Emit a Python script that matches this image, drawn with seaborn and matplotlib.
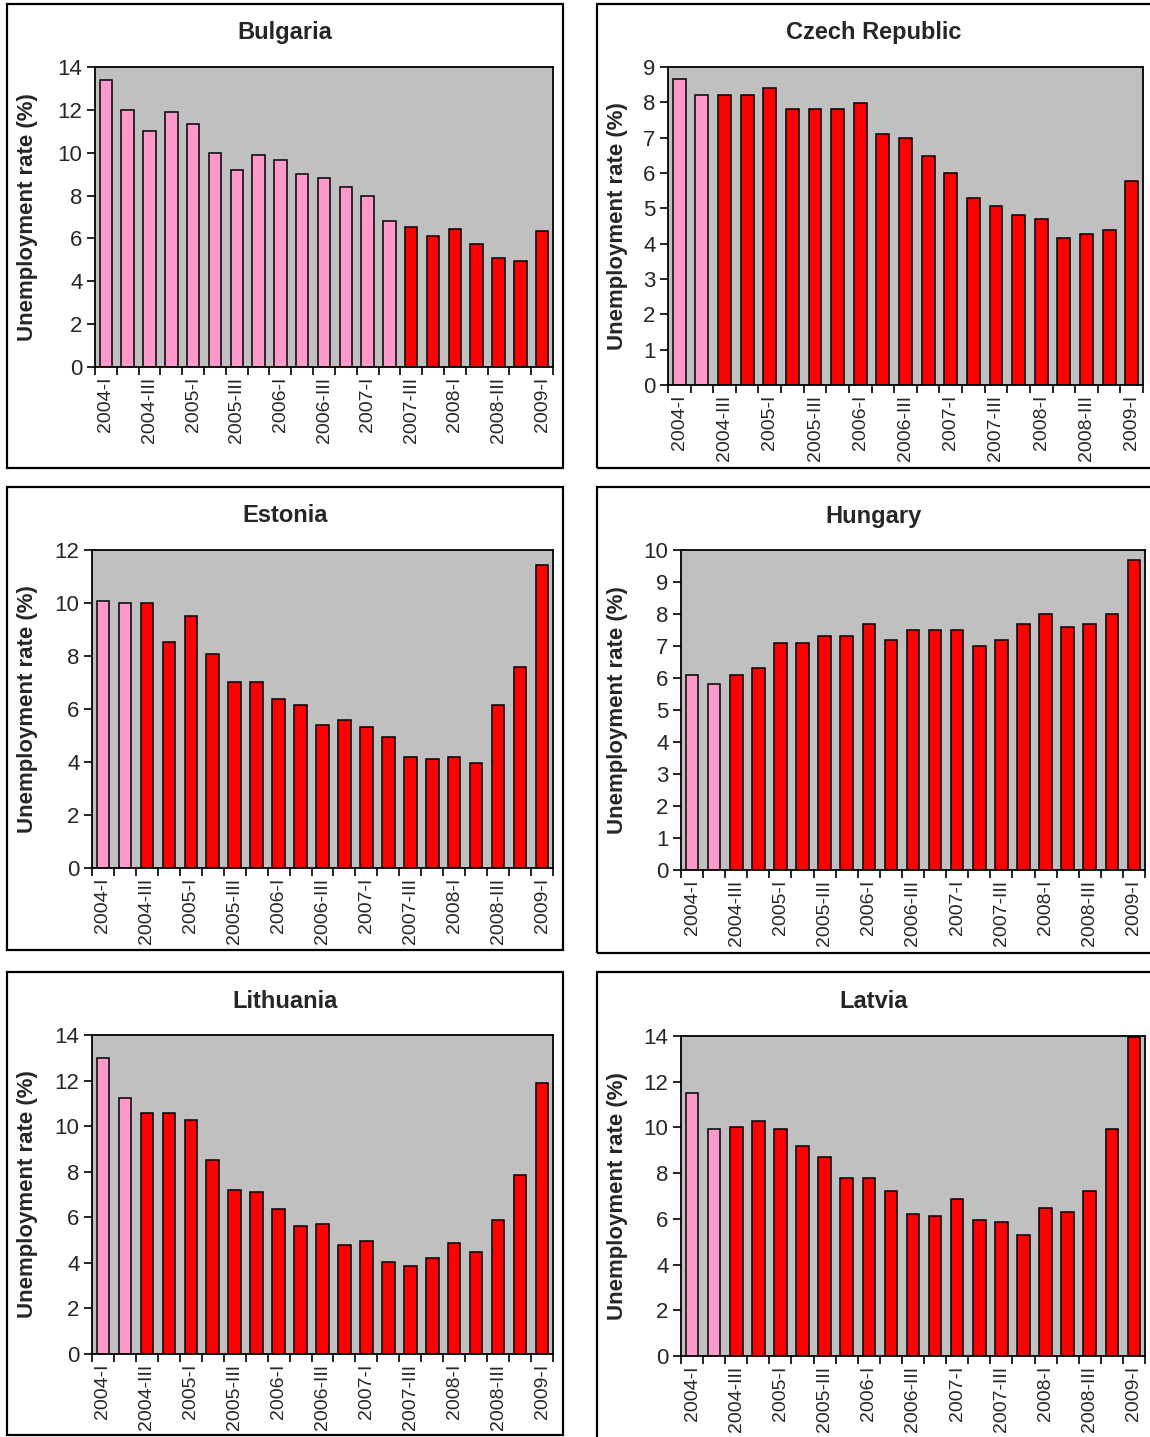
import numpy as np
import pandas as pd
import matplotlib
matplotlib.use("Agg")
import matplotlib.pyplot as plt
from matplotlib.patches import Rectangle
import seaborn as sns

# ---------------- data ----------------
quarters = ["2004-I", "2004-II", "2004-III", "2004-IV",
            "2005-I", "2005-II", "2005-III", "2005-IV",
            "2006-I", "2006-II", "2006-III", "2006-IV",
            "2007-I", "2007-II", "2007-III", "2007-IV",
            "2008-I", "2008-II", "2008-III", "2008-IV",
            "2009-I"]

bulgaria = [13.4, 12.0, 11.0, 11.9, 11.35, 10.0, 9.2, 9.9, 9.65, 9.0, 8.8,
            8.4, 8.0, 6.8, 6.55, 6.1, 6.45, 5.75, 5.1, 4.95, 6.35]
czech = [8.67, 8.2, 8.2, 8.2, 8.4, 7.82, 7.82, 7.82, 7.98, 7.1, 7.0,
         6.48, 5.99, 5.3, 5.08, 4.82, 4.7, 4.16, 4.28, 4.38, 5.78]
estonia = [10.07, 10.0, 10.0, 8.52, 9.5, 8.08, 7.02, 7.02, 6.38, 6.16, 5.4,
           5.6, 5.31, 4.96, 4.18, 4.11, 4.18, 3.97, 6.16, 7.59, 11.43]
hungary = [6.1, 5.8, 6.1, 6.3, 7.1, 7.1, 7.3, 7.3, 7.7, 7.2, 7.5,
           7.5, 7.5, 7.0, 7.2, 7.7, 8.0, 7.6, 7.7, 8.0, 9.7]
lithuania = [12.97, 11.24, 10.58, 10.58, 10.25, 8.51, 7.18, 7.1, 6.36, 5.61, 5.7,
             4.78, 4.96, 4.04, 3.87, 4.2, 4.87, 4.46, 5.86, 7.85, 11.9]
latvia = [11.52, 9.94, 10.01, 10.27, 9.94, 9.2, 8.7, 7.8, 7.8, 7.2, 6.22,
          6.14, 6.87, 5.96, 5.87, 5.29, 6.46, 6.3, 7.22, 9.94, 13.94]

countries = ["Bulgaria", "Czech Republic", "Estonia", "Hungary", "Lithuania", "Latvia"]
series = [bulgaria, czech, estonia, hungary, lithuania, latvia]
n_pink = [14, 2, 2, 2, 2, 2]          # number of leading pink bars per panel
y_max = [14, 9, 12, 10, 14, 14]
y_step = [2, 1, 2, 1, 2, 2]

# ---------------- layout ----------------
W, H = 1150, 1437
PINK = "#FF99CC"
RED = "#FF0000"
BG = "#C0C0C0"

sns.set_theme(style="white")
plt.rcParams["font.family"] = ["Liberation Sans", "DejaVu Sans"]

fig = plt.figure(figsize=(W / 100, H / 100), dpi=100)
fig.patch.set_facecolor("white")

# axes rectangles in pixels: (left, top, right, bottom)
axes_px = [(95, 67, 553, 367), (668, 67, 1143, 385),
           (92, 550, 553, 868), (681, 550, 1145, 870),
           (92, 1035, 553, 1354), (681, 1036, 1145, 1356)]
# panel boxes in pixels: (left, top, right, bottom)
boxes_px = [(7, 4, 563, 468), (597, 4, 1160, 468),
            (7, 487, 563, 950), (597, 487, 1160, 953),
            (7, 972, 563, 1435), (597, 972, 1160, 1445)]
title_y = [32, 32, 516, 516, 1001, 1001]
ylabel_x = [28, 617, 28, 617, 28, 617]

for i, (name, vals) in enumerate(zip(countries, series)):
    l, t, r, b = axes_px[i]
    ax = fig.add_axes([l / W, 1 - b / H, (r - l) / W, (b - t) / H])
    df = pd.DataFrame({"quarter": quarters, "rate": vals})
    colors = [PINK] * n_pink[i] + [RED] * (len(quarters) - n_pink[i])
    sns.barplot(data=df, x="quarter", y="rate", hue="quarter", order=quarters,
                hue_order=quarters, palette=colors, legend=False, width=0.57,
                edgecolor="black", linewidth=1.1, saturation=1, ax=ax)
    ax.set_facecolor(BG)
    ax.set_xlim(-0.5, len(quarters) - 0.5)
    ax.set_ylim(0, y_max[i])
    ticks = np.arange(0, y_max[i] + 0.01, y_step[i])
    ax.set_yticks(ticks)
    ax.set_yticklabels([f"{int(v)}" for v in ticks], fontsize=16)
    ax.set_xticks(range(0, len(quarters), 2))
    ax.set_xticklabels(quarters[::2], rotation=90, fontsize=14)
    ax.set_xticks(np.arange(-0.5, len(quarters), 1.0), minor=True)
    ax.tick_params(axis="x", which="major", length=0, pad=7)
    ax.tick_params(axis="x", which="minor", length=6, width=1.2, direction="out",
                   color="black", bottom=True)
    ax.tick_params(axis="y", length=6, width=1.2, direction="out", color="black",
                   left=True, pad=3)
    for s in ax.spines.values():
        s.set_visible(True)
        s.set_color("black")
        s.set_linewidth(1.3)
    ax.set_xlabel("")
    ax.set_ylabel("")
    ax.grid(False)

    # panel border
    bl, bt, br, bb = boxes_px[i]
    fig.patches.append(Rectangle((bl / W, 1 - bb / H), (br - bl) / W, (bb - bt) / H,
                                 transform=fig.transFigure, fill=False,
                                 edgecolor="black", linewidth=1.6, zorder=10))
    # title centred on the panel box
    fig.text(((bl + min(br, 1150)) / 2) / W, 1 - title_y[i] / H, name,
             ha="center", va="center", fontsize=17, fontweight="bold")
    # y label
    fig.text(ylabel_x[i] / W, 1 - ((t + b) / 2) / H, "Unemployment rate (%)",
             rotation=90, ha="center", va="center", fontsize=16, fontweight="bold")

fig.savefig("out.png", dpi=100)
